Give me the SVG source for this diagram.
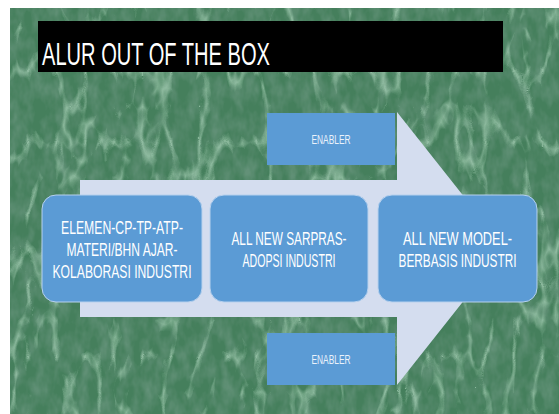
<svg xmlns="http://www.w3.org/2000/svg" width="559" height="414" viewBox="0 0 559 414">
<defs>
<filter id="veins" x="0" y="0" width="100%" height="100%">
<feTurbulence type="turbulence" baseFrequency="0.035 0.014" numOctaves="3" seed="11" result="n"/>
<feColorMatrix in="n" type="matrix" values="0 0 0 0 0.58  0 0 0 0 0.84  0 0 0 0 0.66  -5 0 0 0 1.05"/>
<feComposite in2="SourceGraphic" operator="in"/>
</filter>
<filter id="grain" x="0" y="0" width="100%" height="100%">
<feTurbulence type="fractalNoise" baseFrequency="0.09 0.05" numOctaves="3" seed="3" result="n2"/>
<feColorMatrix in="n2" type="matrix" values="0 0 0 0 0.16  0 0 0 0 0.32  0 0 0 0 0.23  0 0 0 1.8 -0.6"/>
<feComposite in2="SourceGraphic" operator="in"/>
</filter>
</defs>
<style>
.box{fill:#5b9bd5;stroke:#b7d1ee;stroke-width:1}
.en{fill:#5b9bd5}
.t{font-family:"Liberation Sans",Arial,sans-serif;fill:#ffffff;text-anchor:middle}
.bt{font-size:18.5px}
.et{font-size:13px;fill:#eaf2fb}
</style>
<rect x="0" y="0" width="559" height="414" fill="#ffffff"/>
<g id="background">
<rect x="10" y="8" width="549" height="406" fill="#457f5c"/>
<rect x="10" y="8" width="549" height="406" fill="#457f5c" filter="url(#grain)" opacity="0.7"/>
<rect x="10" y="8" width="549" height="406" fill="#457f5c" filter="url(#veins)" opacity="0.5"/>
</g>
<g id="title">
<rect x="38" y="21" width="465" height="51" fill="#000000"/>
<text x="42" y="65" font-family="Liberation Sans, Arial, sans-serif" font-size="32" fill="#ffffff" textLength="228" lengthAdjust="spacingAndGlyphs">ALUR OUT OF THE BOX</text>
</g>
<g id="connectors">
<path id="big-arrow" d="M80,180 H397 V112 L462.7,195 H395 V302 H462.7 L397,385 V317 H80 Z" fill="#d4ddef"/>
</g>
<g id="enabler-top">
<rect class="en" x="267" y="113" width="128" height="52"/>
<text class="t et" x="331" y="143.5" textLength="39" lengthAdjust="spacingAndGlyphs">ENABLER</text>
</g>
<g id="enabler-bottom">
<rect class="en" x="267" y="333" width="128" height="52"/>
<text class="t et" x="331" y="363.5" textLength="39" lengthAdjust="spacingAndGlyphs">ENABLER</text>
</g>
<g id="node-elemen">
<rect class="box" x="42" y="195" width="160" height="107" rx="14"/>
<text class="t bt" x="122" y="234" textLength="122" lengthAdjust="spacingAndGlyphs">ELEMEN-CP-TP-ATP-</text>
<text class="t bt" x="122" y="256" textLength="111" lengthAdjust="spacingAndGlyphs">MATERI/BHN AJAR-</text>
<text class="t bt" x="122" y="278" textLength="139" lengthAdjust="spacingAndGlyphs">KOLABORASI INDUSTRI</text>
</g>
<g id="node-sarpras">
<rect class="box" x="210" y="195" width="158" height="107" rx="14"/>
<text class="t bt" x="289" y="245" textLength="115" lengthAdjust="spacingAndGlyphs">ALL NEW SARPRAS-</text>
<text class="t bt" x="289" y="267" textLength="93" lengthAdjust="spacingAndGlyphs">ADOPSI INDUSTRI</text>
</g>
<g id="node-model">
<rect class="box" x="378" y="195" width="159" height="107" rx="14"/>
<text class="t bt" transform="translate(457.5,245) scale(0.65,1)" x="0" y="0" textLength="167.7" lengthAdjust="spacingAndGlyphs">ALL NEW MODEL-</text>
<text class="t bt" transform="translate(457.5,267) scale(0.65,1)" x="0" y="0" textLength="181.5" lengthAdjust="spacingAndGlyphs">BERBASIS INDUSTRI</text>
</g>
</svg>
